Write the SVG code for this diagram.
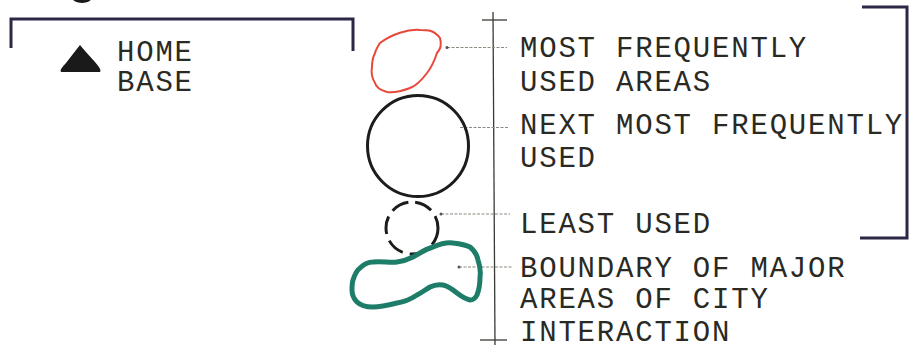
<svg xmlns="http://www.w3.org/2000/svg" width="910" height="356" viewBox="0 0 910 356">
<style>
text{font-family:"Liberation Mono","DejaVu Sans Mono",monospace;font-size:29px;letter-spacing:1.8px;fill:#2a2a24;}
.br{fill:none;stroke:#2b2745;stroke-width:3;}
.lead{fill:none;stroke:#8a8a80;stroke-width:1.2;stroke-dasharray:3 1.5;}
.axis{fill:none;stroke:#3a3a34;stroke-width:1.3;}
</style>
<rect width="910" height="356" fill="#ffffff"/>
<g id="top-blob"><ellipse cx="82" cy="-3" rx="10" ry="6" fill="#1a1a1a"/></g>
<g id="left-bracket"><path class="br" d="M11,48 L11,19 L353,19 L353,51"/></g>
<g id="home-base">
<path d="M80,45 Q76,50 66,63 Q59,70 61,72 L100,72 Q102,70 95,62 Q84,50 80,45 Z" fill="#1a1a1a"/>
<text x="117" y="61">HOME</text>
<text x="117" y="91">BASE</text>
</g>
<g id="right-bracket"><path class="br" d="M862,7 L907,7 L907,238 L860,238"/></g>
<g id="connectors">
<path class="axis" d="M493,12 L495,345"/>
<path class="axis" d="M482,20 L507,20"/>
<path class="axis" d="M480,340 L507,340" stroke-width="2"/>
<path class="lead" d="M447,47.5 L507,47.5"/>
<path class="lead" d="M460,127.5 L508,127.5"/>
<path class="lead" d="M441,214 L510,214"/>
<path class="lead" d="M459,267 L513,267"/>
<circle cx="447" cy="47.5" r="1.5" fill="#555"/>
<circle cx="441" cy="214" r="1.5" fill="#555"/>
<circle cx="459" cy="267" r="1.5" fill="#555"/>
</g>
<g id="most-used">
<path d="M380,43 C392,34 408,29 420,30 C428,30 434,30 440,38 C442,45 440,50 437,53 C434,62 431,68 427,73 C421,81 416,86 410,88 C402,91 394,93 387,92 C380,90 376,87 375,83 C372,78 371,72 372,67 C372,61 373,57 375,53 C376,49 378,46 380,43 Z" fill="none" stroke="#e8483a" stroke-width="2"/>
<text x="520" y="57">MOST FREQUENTLY</text>
<text x="520" y="91">USED AREAS</text>
</g>
<g id="next-most">
<circle cx="418" cy="146" r="50.5" fill="none" stroke="#1c1c1c" stroke-width="3"/>
<text x="520" y="134">NEXT MOST FREQUENTLY</text>
<text x="520" y="167">USED</text>
</g>
<g id="least-used">
<circle cx="412" cy="228" r="26" fill="none" stroke="#1c1c1c" stroke-width="3" stroke-dasharray="18 7"/>
<text x="520" y="233">LEAST USED</text>
</g>
<g id="boundary">
<path d="M353,280 C355,274 357,270 360,268 C364,264 368,262 373,262 C382,261 390,263 397,262 C404,261 409,259 413,257 C420,253 426,249 433,247 C440,244 447,242 453,243 C461,244 466,245 470,247 C475,251 477,255 478,260 C480,266 481,271 480,277 C480,284 479,290 477,295 C475,299 473,300 470,300 C465,299 461,296 457,293 C452,289 448,286 443,285 C438,284 434,285 430,287 C425,290 421,293 417,295 C411,299 404,302 397,303 C389,305 381,307 373,307 C365,307 360,305 357,302 C354,299 352,295 352,290 C352,286 352,283 353,280 Z" fill="none" stroke="#1e7d69" stroke-width="5"/>
<text x="520" y="277">BOUNDARY OF MAJOR</text>
<text x="520" y="308">AREAS OF CITY</text>
<text x="520" y="341">INTERACTION</text>
</g>
</svg>
